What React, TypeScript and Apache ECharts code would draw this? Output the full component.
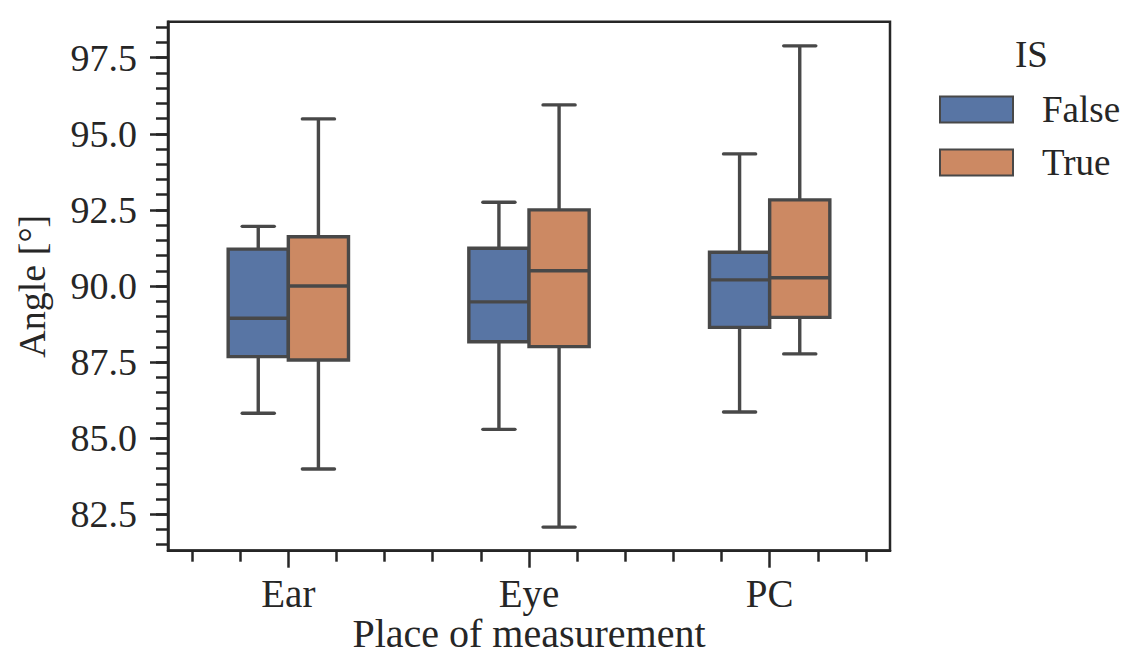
import React, { useEffect, useRef } from "react";
import * as echarts from "echarts";

const categories = ["Ear", "Eye", "PC"];
const hueNames = ["False", "True"];
const xTitle = "Place of measurement";
const yTitle = "Angle [°]";
// [min, Q1, median, Q3, max] per category
const falseBoxes = [
  [85.82, 87.68, 88.94, 91.21, 91.96],
  [85.29, 88.17, 89.48, 91.24, 92.75],
  [85.86, 88.64, 90.2, 91.11, 94.34],
];
const trueBoxes = [
  [83.99, 87.57, 90.0, 91.62, 95.49],
  [82.08, 88.01, 90.5, 92.5, 95.95],
  [87.77, 88.97, 90.27, 92.83, 97.89],
];
const yMajorTicks = [82.5, 85.0, 87.5, 90.0, 92.5, 95.0, 97.5];
const yMinorTicks = [
  81.5, 82.0, 82.5, 83.0, 83.5, 84.0, 84.5, 85.0, 85.5, 86.0, 86.5, 87.0, 87.5,
  88.0, 88.5, 89.0, 89.5, 90.0, 90.5, 91.0, 91.5, 92.0, 92.5, 93.0, 93.5, 94.0,
  94.5, 95.0, 95.5, 96.0, 96.5, 97.0, 97.5, 98.0, 98.5,
];
const xMinorTicks = [-0.4, -0.2, 0.2, 0.4, 0.6, 0.8, 1.2, 1.4, 1.6, 1.8, 2.2, 2.4];
const yMin = 81.304;
const yMax = 98.683;

const BLUE = "#5875a4";
const ORANGE = "#cc8963";
const EDGE = "#484848";
const AXIS = "#262626";
const FONT = "Liberation Serif";

function makeRender(offsetFrac: number, color: string) {
  return (params: any, api: any) => {
    const i = api.value(0);
    const band = api.size([1, 0])[0];
    const cx = api.coord([i, 0])[0] + offsetFrac * band;
    const half = band * 0.125;
    const capHalf = band * 0.0667;
    const yv = (k: number) => api.coord([i, api.value(k)])[1];
    const yLo = yv(1), yQ1 = yv(2), yMed = yv(3), yQ3 = yv(4), yHi = yv(5);
    const ls = { stroke: EDGE, lineWidth: 3.4 };
    const cap = { stroke: EDGE, lineWidth: 3.4, lineCap: "round" };
    return {
      type: "group",
      children: [
        { type: "line", shape: { x1: cx, y1: yHi, x2: cx, y2: yQ3 }, style: ls },
        { type: "line", shape: { x1: cx, y1: yQ1, x2: cx, y2: yLo }, style: ls },
        { type: "line", shape: { x1: cx - capHalf, y1: yHi, x2: cx + capHalf, y2: yHi }, style: cap },
        { type: "line", shape: { x1: cx - capHalf, y1: yLo, x2: cx + capHalf, y2: yLo }, style: cap },
        {
          type: "rect",
          shape: { x: cx - half, y: yQ3, width: 2 * half, height: yQ1 - yQ3 },
          style: { fill: color, stroke: EDGE, lineWidth: 3.4 },
        },
        { type: "line", shape: { x1: cx - half, y1: yMed, x2: cx + half, y2: yMed }, style: ls },
      ],
    };
  };
}

export default function App() {
  const ref = useRef<HTMLDivElement>(null);
  useEffect(() => {
    if (!ref.current) return;
    const chart = echarts.init(ref.current, null, { renderer: "svg" });
    const toData = (boxes: number[][]) => boxes.map((b, i) => [i, ...b]);
    chart.setOption({
      animation: false,
      backgroundColor: "#ffffff",
      textStyle: { fontFamily: FONT },
      grid: {
        left: 168,
        top: 21.7,
        right: 242,
        bottom: 107.3,
        containLabel: false,
        outerBoundsMode: "none",
        show: true,
        borderColor: AXIS,
        borderWidth: 2.5,
        backgroundColor: "transparent",
      },
      graphic: [
        {
          type: "text",
          left: 1015,
          top: 36,
          style: { text: "IS", font: `37px '${FONT}'`, fill: AXIS },
        },
        {
          type: "text",
          x: 529,
          y: 633,
          style: {
            text: xTitle,
            font: `40px '${FONT}'`,
            fill: AXIS,
            align: "center",
            verticalAlign: "middle",
          },
        },
      ],
      legend: {
        orient: "vertical",
        left: 934,
        top: 86,
        itemWidth: 73,
        itemHeight: 26,
        itemGap: 16,
        icon: "rect",
        data: hueNames,
        itemStyle: { borderColor: EDGE, borderWidth: 2 },
        textStyle: { fontFamily: FONT, fontSize: 37, color: AXIS, padding: [0, 0, 0, 24] },
      },
      xAxis: [
        {
          type: "category",
          data: categories,
          boundaryGap: true,
          axisLine: { show: true, onZero: false, lineStyle: { color: AXIS, width: 2.5 } },
          axisTick: { show: true, alignWithLabel: true, length: 17, lineStyle: { color: AXIS, width: 2.5 } },
          axisLabel: { fontFamily: FONT, fontSize: 39, color: AXIS, margin: 23 },
          splitLine: { show: false },
        },
        {
          type: "value",
          min: -0.5,
          max: 2.5,
          position: "bottom",
          axisLine: { show: false, onZero: false },
          axisLabel: { show: false },
          splitLine: { show: false },
          axisTick: {
            show: true,
            length: 11,
            customValues: xMinorTicks,
            lineStyle: { color: AXIS, width: 2.5 },
          },
        },
      ],
      yAxis: [
        {
          type: "value",
          min: yMin,
          max: yMax,
          name: yTitle,
          nameLocation: "middle",
          nameGap: 117,
          nameTextStyle: { fontFamily: FONT, fontSize: 38, color: AXIS },
          axisLine: { show: true, onZero: false, lineStyle: { color: AXIS, width: 2.5 } },
          axisTick: { show: true, length: 18, customValues: yMajorTicks, lineStyle: { color: AXIS, width: 2.5 } },
          axisLabel: {
            fontFamily: FONT,
            fontSize: 38,
            color: AXIS,
            margin: 31,
            customValues: yMajorTicks,
            formatter: (v: number) => v.toFixed(1),
          },
          splitLine: { show: false },
        },
        {
          type: "value",
          min: yMin,
          max: yMax,
          position: "left",
          axisLine: { show: false, onZero: false },
          axisLabel: { show: false },
          splitLine: { show: false },
          axisTick: { show: true, length: 12, customValues: yMinorTicks, lineStyle: { color: AXIS, width: 2.5 } },
        },
      ],
      series: [
        {
          name: hueNames[0],
          type: "custom",
          xAxisIndex: 0,
          yAxisIndex: 0,
          itemStyle: { color: BLUE },
          encode: { x: 0, y: [1, 2, 3, 4, 5] },
          renderItem: makeRender(-0.125, BLUE),
          data: toData(falseBoxes),
        },
        {
          name: hueNames[1],
          type: "custom",
          xAxisIndex: 0,
          yAxisIndex: 0,
          itemStyle: { color: ORANGE },
          encode: { x: 0, y: [1, 2, 3, 4, 5] },
          renderItem: makeRender(0.125, ORANGE),
          data: toData(trueBoxes),
        },
      ],
    });
    return () => chart.dispose();
  }, []);
  return (
    <div
      ref={ref}
      style={{ position: "fixed", left: 0, top: 0, width: 1132, height: 658, background: "#fff" }}
    />
  );
}
